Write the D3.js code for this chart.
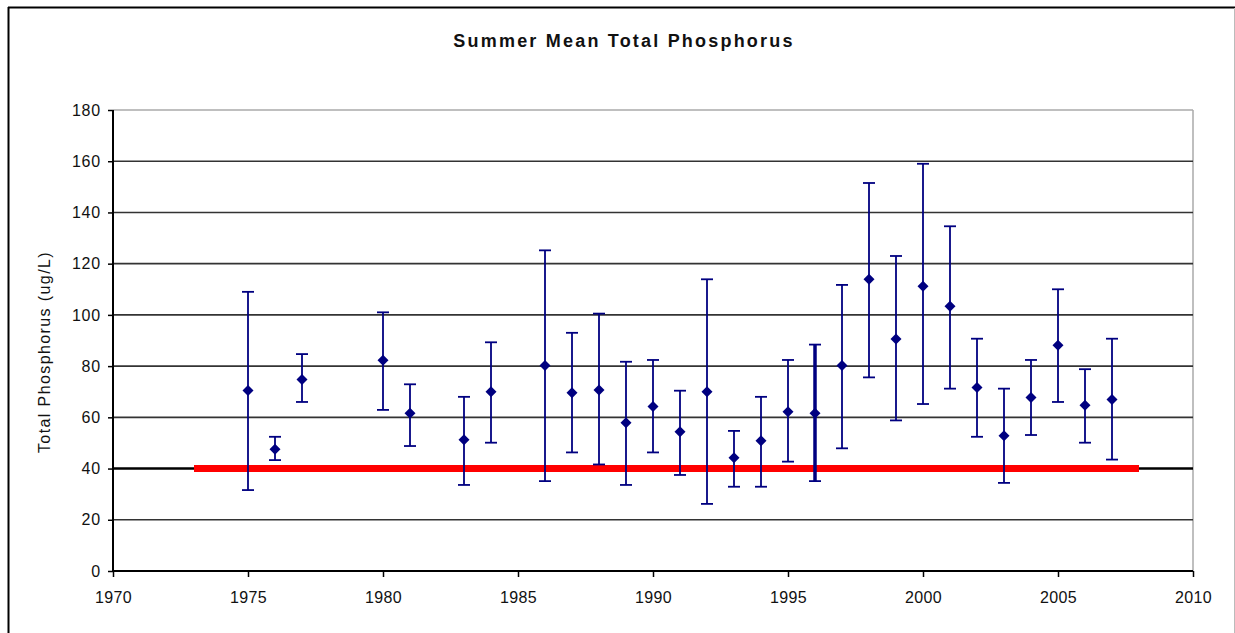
<!DOCTYPE html>
<html>
<head>
<meta charset="utf-8">
<script src="https://cdn.jsdelivr.net/npm/d3@7"></script>
<style>
    body { margin: 0; background: #fff; }
    svg text { font-family: "Liberation Sans", Arial, sans-serif; fill: #111; }
</style>
</head>
<body>
<div id="chart"></div>
<script>
// summer mean total phosphorus, one entry per sampled year
var years = [1975, 1976, 1977, 1980, 1981, 1983, 1984, 1986, 1987, 1988, 1989, 1990, 1991, 1992,
             1993, 1994, 1995, 1996, 1997, 1998, 1999, 2000, 2001, 2002, 2003, 2004, 2005, 2006, 2007];
var means = [70.5, 47.5, 74.8, 82.3, 61.6, 51.2, 70, 80.2, 69.6, 70.7, 57.9, 64.2, 54.4, 70,
             44.2, 50.9, 62.2, 61.6, 80.2, 113.9, 90.6, 111.2, 103.4, 71.6, 52.8, 67.7, 88.1, 64.7, 67];
var highs = [109, 52.4, 84.7, 101, 72.9, 68, 89.3, 125.2, 93, 100.5, 81.7, 82.4, 70.4, 113.9,
             54.7, 68, 82.4, 88.4, 111.7, 151.5, 123, 159, 134.6, 90.7, 71.2, 82.4, 110, 78.8, 90.7];
var lows = [31.6, 43.3, 66, 62.9, 48.8, 33.6, 50.1, 35.1, 46.3, 41.6, 33.6, 46.3, 37.5, 26.2,
            32.9, 32.9, 42.7, 35.1, 47.9, 75.6, 58.8, 65.2, 71.2, 52.4, 34.4, 53.1, 66, 50.1, 43.5];

// target line
var targetValue = 40;
var targetYears = [1973, 2008];

// axis ticks
var yTicks = [0, 20, 40, 60, 80, 100, 120, 140, 160, 180];
var xTicks = [1970, 1975, 1980, 1985, 1990, 1995, 2000, 2005, 2010];

window.onload = function() {
    draw();
};

function draw() {
    var width = 1235;
    var height = 633;
    var plot = {left: 113, right: 1193, top: 110, bottom: 571};

    var svg = d3.select("#chart").append("svg").attr("width", width).attr("height", height);

    // outer frame
    svg.append("line").attr("x1", 8).attr("x2", 1235).attr("y1", 7.5).attr("y2", 7.5)
        .attr("stroke", "#000").attr("stroke-width", 2);
    svg.append("line").attr("x1", 8.5).attr("x2", 8.5).attr("y1", 7).attr("y2", 633)
        .attr("stroke", "#000").attr("stroke-width", 2);
    svg.append("line").attr("x1", 1234.5).attr("x2", 1234.5).attr("y1", 8).attr("y2", 633)
        .attr("stroke", "#bbb").attr("stroke-width", 1);

    var xscale = d3.scaleLinear().domain([1970, 2010]).range([plot.left, plot.right]);
    var yscale = d3.scaleLinear().domain([0, 180]).range([plot.bottom, plot.top]);

    // plot area border (top and right are grey)
    svg.append("line").attr("x1", plot.left).attr("x2", plot.right).attr("y1", plot.top).attr("y2", plot.top)
        .attr("stroke", "#aaa").attr("stroke-width", 1.5);
    svg.append("line").attr("x1", plot.right).attr("x2", plot.right).attr("y1", plot.top).attr("y2", plot.bottom)
        .attr("stroke", "#aaa").attr("stroke-width", 1.5);

    // gridlines
    svg.selectAll(".grid").data(yTicks.filter(function(d) { return d > 0 && d < 180; })).enter()
        .append("line")
        .attr("class", "grid")
        .attr("x1", plot.left).attr("x2", plot.right)
        .attr("y1", function(d) { return yscale(d); })
        .attr("y2", function(d) { return yscale(d); })
        .attr("stroke", function(d) { return d === 40 ? "#000" : "#333"; })
        .attr("stroke-width", function(d) { return d === 40 ? 2.5 : 1.6; });

    // y axis
    var yaxis = d3.axisLeft(yscale).tickValues(yTicks).tickSize(5).tickPadding(7);
    var gy = svg.append("g")
        .attr("transform", "translate(" + plot.left + ",0)")
        .call(yaxis);
    gy.select(".domain").attr("stroke", "#000").attr("stroke-width", 2).attr("d", "M0," + plot.top + "V" + plot.bottom);
    gy.selectAll(".tick line").attr("stroke", "#000").attr("stroke-width", 1.5);
    gy.selectAll("text").style("font-size", "16px").style("letter-spacing", "0.8px");

    // x axis
    var xaxis = d3.axisBottom(xscale).tickValues(xTicks).tickFormat(d3.format("d")).tickSize(6).tickPadding(15);
    var gx = svg.append("g")
        .attr("transform", "translate(0," + plot.bottom + ")")
        .call(xaxis);
    gx.select(".domain").attr("stroke", "#000").attr("stroke-width", 2).attr("d", "M" + plot.left + ",0H" + plot.right);
    gx.selectAll(".tick line").attr("stroke", "#000").attr("stroke-width", 1.5);
    gx.selectAll("text").style("font-size", "16px").style("letter-spacing", "0.3px");

    // target line
    svg.append("line")
        .attr("x1", xscale(targetYears[0])).attr("x2", xscale(targetYears[1]))
        .attr("y1", yscale(targetValue)).attr("y2", yscale(targetValue))
        .attr("stroke", "#ff0000").attr("stroke-width", 7);

    // error bars
    var color = "#000080";
    var cap = 6;
    var g = svg.append("g");
    years.forEach(function(yr, i) {
        var x = xscale(yr);
        g.append("line").attr("x1", x).attr("x2", x)
            .attr("y1", yscale(lows[i])).attr("y2", yscale(highs[i]))
            .attr("stroke", color).attr("stroke-width", yr === 1996 ? 3.5 : 1.8);
        [lows[i], highs[i]].forEach(function(v) {
            g.append("line").attr("x1", x - cap).attr("x2", x + cap)
                .attr("y1", yscale(v)).attr("y2", yscale(v))
                .attr("stroke", color).attr("stroke-width", 1.8);
        });
    });

    // mean markers (square diamonds)
    var r = 5.5;
    svg.selectAll(".pt").data(years).enter().append("path")
        .attr("class", "pt")
        .attr("d", "M0," + (-r) + "L" + r + ",0L0," + r + "L" + (-r) + ",0Z")
        .attr("transform", function(d, i) {
            return "translate(" + xscale(d) + "," + yscale(means[i]) + ")";
        })
        .attr("fill", color);

    // title
    svg.append("text")
        .text("Summer Mean Total Phosphorus")
        .attr("x", 624).attr("y", 47)
        .attr("text-anchor", "middle")
        .style("font-size", "18px").style("font-weight", "bold").style("letter-spacing", "2.2px");

    // y label
    svg.append("text")
        .text("Total Phosphorus (ug/L)")
        .attr("transform", "translate(50,352) rotate(-90)")
        .attr("text-anchor", "middle")
        .style("font-size", "16px").style("letter-spacing", "1.4px");
}
</script>
</body>
</html>
